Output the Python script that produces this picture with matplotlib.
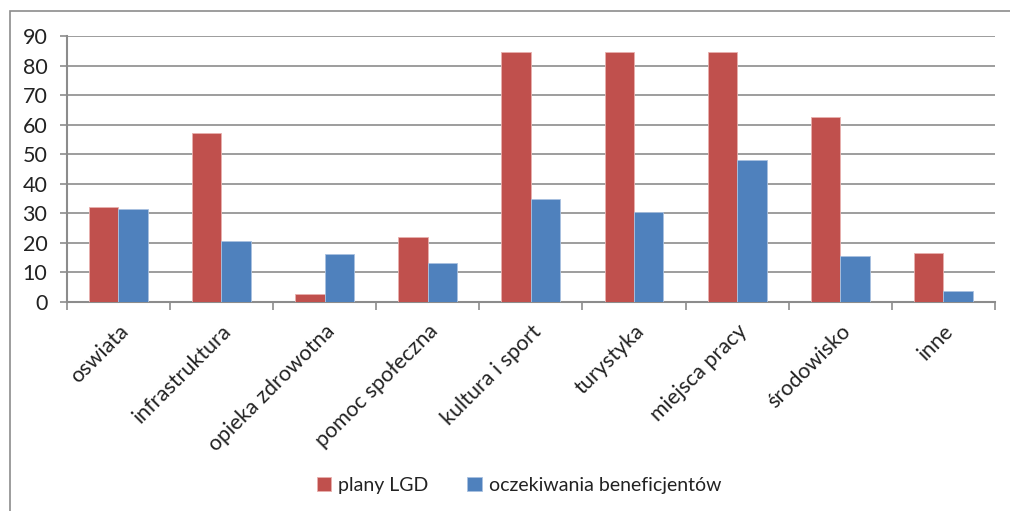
import matplotlib
matplotlib.use("Agg")
import matplotlib.pyplot as plt
import matplotlib.transforms as mtransforms
import numpy as np
from matplotlib.patches import Rectangle

categories = ["oswiata", "infrastruktura", "opieka zdrowotna", "pomoc społeczna",
              "kultura i sport", "turystyka", "miejsca pracy", "środowisko", "inne"]
plany_lgd = [32, 57, 2.5, 22, 84.7, 84.7, 84.7, 62.4, 16.4]
oczekiwania = [31.4, 20.4, 16, 13.2, 34.9, 30.5, 48, 15.5, 3.6]
series_names = ["plany LGD", "oczekiwania beneficjentów"]
yticks = list(range(0, 91, 10))

plt.rcParams['font.family'] = ['Lato', 'DejaVu Sans']
grey = "#8c8c8c"
red = "#C0504D"
blue = "#4F81BD"
txt = "#222222"

fig = plt.figure(figsize=(10.10, 5.11), dpi=100)
ax = fig.add_axes([66.7/1010, 1-301.7/511, (995-66.7)/1010, (301.7-36)/511])

# outer chart border
fig.patches.append(Rectangle((10/1010, -0.05), 1.2, 1-11/511+0.05, transform=fig.transFigure,
                             fill=False, edgecolor=grey, linewidth=1.2))

x = np.arange(len(categories))
w = 0.285
ax.bar(x - w/2, plany_lgd, w, color=red, edgecolor="#e8b0ae", linewidth=0.6, label=series_names[0], zorder=3)
ax.bar(x + w/2, oczekiwania, w, color=blue, edgecolor="#a9c1e0", linewidth=0.6, label=series_names[1], zorder=3)

ax.set_xlim(-0.5, len(categories) - 0.5)
ax.set_ylim(0, 90)
ax.set_yticks(yticks)
ax.yaxis.grid(True, color=grey, linewidth=1.2, zorder=0)
ax.set_axisbelow(True)

ax.set_xticks(np.arange(len(categories) + 1) - 0.5)
ax.set_xticklabels([])
ax.set_xticks(x, minor=True)
ax.set_xticklabels(categories, minor=True, rotation=45, ha='right', va='top',
                   rotation_mode='anchor', fontsize=15.5, color=txt)
offset = mtransforms.ScaledTranslation(5/100, 0, fig.dpi_scale_trans)
for lab in ax.get_xticklabels(minor=True):
    lab.set_transform(lab.get_transform() + offset)
ax.tick_params(axis='x', which='minor', length=0, pad=14)
ax.tick_params(axis='x', which='major', length=6, width=1.2, color=grey, direction='out')
ax.tick_params(axis='y', length=5, width=1.2, color=grey, direction='out', labelsize=15.5,
               labelcolor=txt, pad=9)

for s in ['top', 'right']:
    ax.spines[s].set_visible(False)
for s in ['left', 'bottom']:
    ax.spines[s].set_color(grey)
    ax.spines[s].set_linewidth(1.5)

leg = fig.legend(loc='center', bbox_to_anchor=(519/1010, 1-485/511), ncol=2, frameon=False,
                 fontsize=14, handlelength=0.75, handleheight=0.75, handletextpad=0.35,
                 columnspacing=2.0)
for t in leg.get_texts():
    t.set_color(txt)

fig.savefig("out.png", dpi=100)
